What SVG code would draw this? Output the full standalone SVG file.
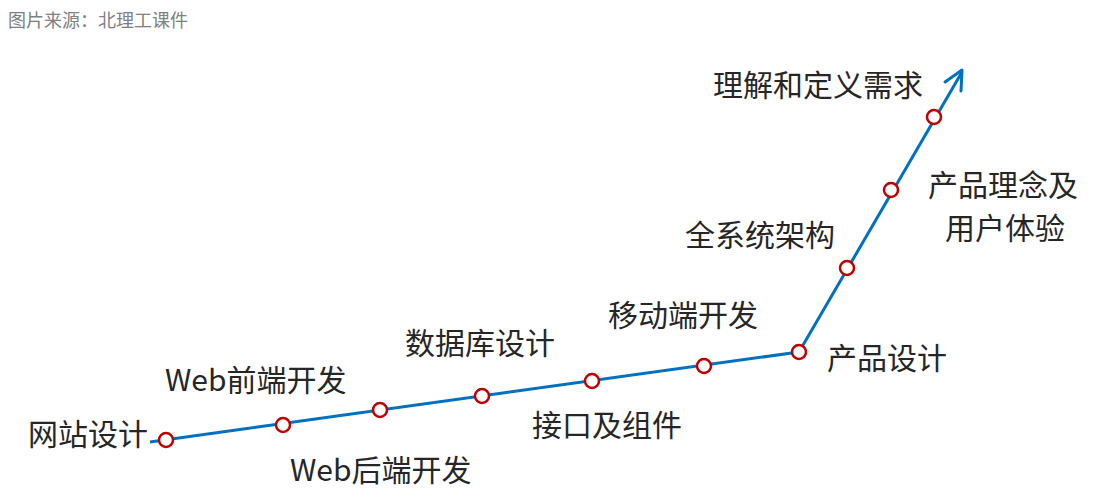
<svg xmlns="http://www.w3.org/2000/svg" width="1098" height="497" viewBox="0 0 1098 497">
<style>
.lbl{font-family:"Microsoft YaHei","Noto Sans CJK SC","Liberation Sans",sans-serif;font-size:30px;fill:#262626}
.src{font-family:"Noto Sans CJK SC","Liberation Sans",sans-serif;font-size:18px;fill:#808080}
.pt{fill:#fff;stroke:#C00000;stroke-width:2.5}
</style>
<rect width="1098" height="497" fill="#fff"/>
<text class="src" x="8" y="27">图片来源：北理工课件</text>
<g id="connectors">
<polyline points="150,442 799,352 962,72" fill="none" stroke="#0070C0" stroke-width="3" stroke-linejoin="round"/>
<polyline points="945,82 962,70 961,91" fill="none" stroke="#0070C0" stroke-width="3" stroke-linecap="round" stroke-linejoin="round"/>
</g>
<g id="points">
<circle class="pt" cx="166" cy="440" r="7"/>
<circle class="pt" cx="283" cy="425" r="7"/>
<circle class="pt" cx="380" cy="410" r="7"/>
<circle class="pt" cx="482" cy="396" r="7"/>
<circle class="pt" cx="592" cy="381" r="7"/>
<circle class="pt" cx="704" cy="366" r="7"/>
<circle class="pt" cx="799" cy="352" r="7"/>
<circle class="pt" cx="847" cy="268" r="7"/>
<circle class="pt" cx="891" cy="190" r="7"/>
<circle class="pt" cx="934" cy="117" r="7"/>
</g>
<g id="n1"><text class="lbl" x="28" y="445">网站设计</text></g>
<g id="n2"><text class="lbl" x="165" y="391">Web前端开发</text></g>
<g id="n3"><text class="lbl" x="290" y="481">Web后端开发</text></g>
<g id="n4"><text class="lbl" x="405" y="354">数据库设计</text></g>
<g id="n5"><text class="lbl" x="532" y="436">接口及组件</text></g>
<g id="n6"><text class="lbl" x="608" y="326">移动端开发</text></g>
<g id="n7"><text class="lbl" x="827" y="369">产品设计</text></g>
<g id="n8"><text class="lbl" x="685" y="246">全系统架构</text></g>
<g id="n9"><text class="lbl" x="928" y="196">产品理念及</text><text class="lbl" x="945" y="239">用户体验</text></g>
<g id="n10"><text class="lbl" x="713" y="96">理解和定义需求</text></g>
</svg>
